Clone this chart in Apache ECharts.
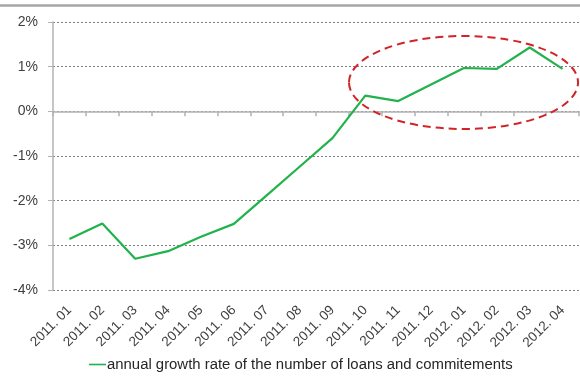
<!DOCTYPE html>
<html><head><meta charset="utf-8">
<script src="https://cdn.jsdelivr.net/npm/echarts@6/dist/echarts.min.js"></script>
<style>html,body{margin:0;padding:0;background:#fff}#c{width:580px;height:378px}</style>
</head><body><div id="c"></div>
<script>
const categories = ["2011. 01","2011. 02","2011. 03","2011. 04","2011. 05","2011. 06","2011. 07","2011. 08","2011. 09","2011. 10","2011. 11","2011. 12","2012. 01","2012. 02","2012. 03","2012. 04"];
const growthRate = [-2.86,-2.51,-3.30,-3.13,-2.81,-2.52,-1.88,-1.24,-0.60,0.35,0.23,0.60,0.97,0.95,1.43,0.95];
const seriesName = "annual growth rate of the number of loans and commitements";
const yTicks = {min:-4, max:2, interval:1};

const chart = echarts.init(document.getElementById('c'), null, {renderer:'canvas'});
const font = "'Liberation Sans', Arial, sans-serif";
chart.setOption({
  animation:false,
  grid:{left:53, right:1, top:22, bottom:88, containLabel:false},
  xAxis:[
    {type:'category', data:categories, boundaryGap:true, position:'bottom',
     axisLine:{onZero:true, lineStyle:{color:'#b3b3b3', width:1.5}},
     axisTick:{show:true, interval:0, length:5, alignWithLabel:false, lineStyle:{color:'#b3b3b3', width:1.5}},
     axisLabel:{show:false, interval:0}, splitLine:{show:false}},
    {type:'category', data:categories, boundaryGap:true, position:'bottom',
     axisLine:{show:false, onZero:false}, axisTick:{show:false},
     axisLabel:{show:true, interval:0, rotate:45, margin:18, fontSize:13.5, color:'#404040', fontFamily:font},
     splitLine:{show:false}}
  ],
  yAxis:{type:'value', min:yTicks.min, max:yTicks.max, interval:yTicks.interval,
    axisLine:{show:true, lineStyle:{color:'#b3b3b3', width:1.5}},
    axisTick:{show:true, length:5, lineStyle:{color:'#b3b3b3'}},
    axisLabel:{formatter:v=>v+'%', fontSize:14, color:'#404040', margin:15, fontFamily:font},
    splitLine:{show:true, lineStyle:{color:'#7f7f7f', width:1, type:[2,2]}}},
  legend:{show:true, bottom:1, left:84, itemWidth:17, itemHeight:10, itemGap:2, padding:[5,5,5,5],
    textStyle:{fontSize:14.9, color:'#262626', fontFamily:font, padding:[0,0,0,-4]},
    data:[{name:seriesName, icon:'path://M0,4.2L17,4.2L17,5.8L0,5.8Z'}]},
  series:[{name:seriesName, type:'line', xAxisIndex:0, data:growthRate, symbol:'none',
    itemStyle:{color:'#22b24c'}, lineStyle:{color:'#22b24c', width:2.2}}],
  graphic:[
    {type:'line', shape:{x1:0,y1:5.5,x2:580,y2:5.5}, style:{stroke:'#a6a6a6', lineWidth:2.5}},
    {type:'ellipse', shape:{cx:463.5, cy:82.5, rx:114.5, ry:46.5}, z:100,
     style:{fill:'none', stroke:'#d02428', lineWidth:2, lineDash:[8,5]}}
  ]
});
</script></body></html>
